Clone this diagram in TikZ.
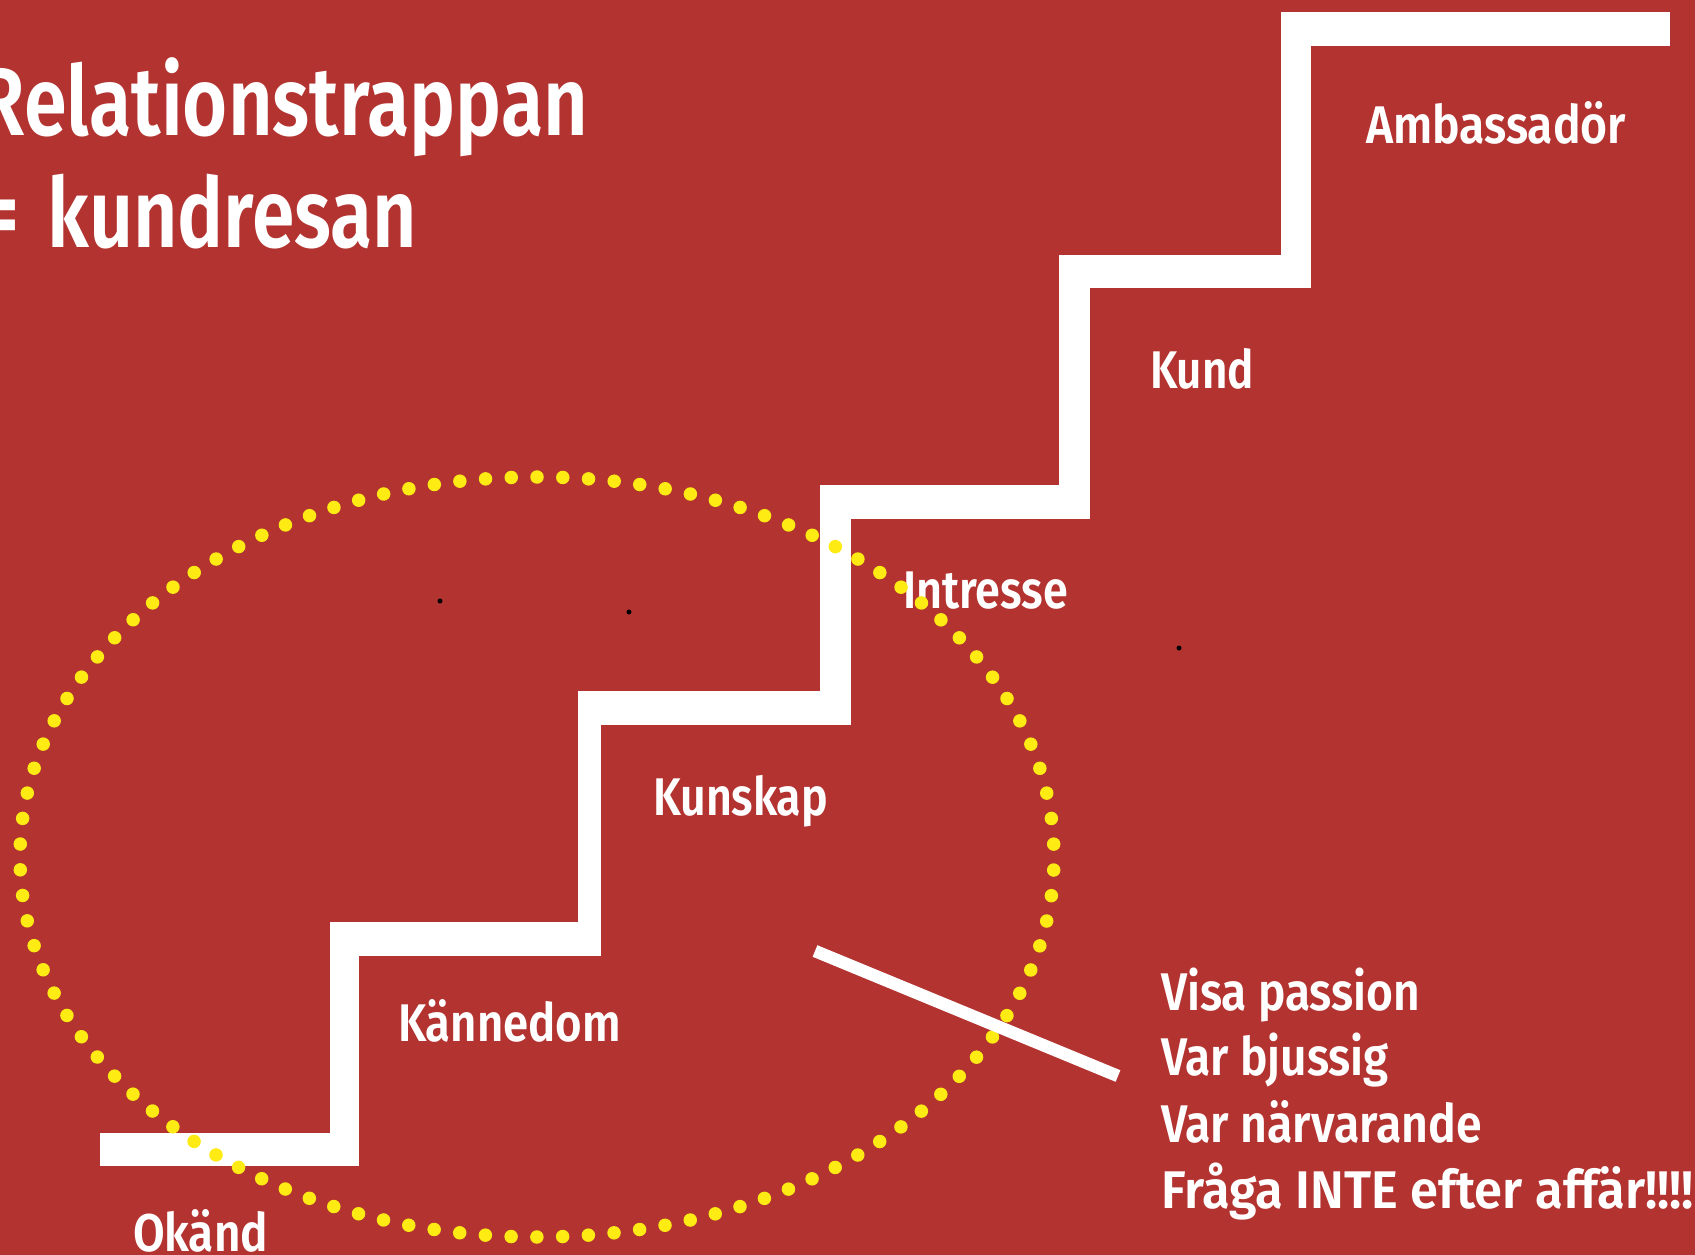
\documentclass[tikz,border=0pt]{standalone}
\usepackage{fontspec}
\usepackage{graphicx}
\newfontfamily\lblfont{Fira Sans SemiBold}
\definecolor{bgred}{RGB}{179,51,48}
\definecolor{dotyellow}{RGB}{255,235,20}
\newcommand\fitw[2]{\resizebox{#1}{\height}{#2}}
\begin{document}
\begin{tikzpicture}[x=1pt,y=-1pt,
  lbl/.style={anchor=base west, inner sep=0pt, outer sep=0pt, text=white, font=\lblfont\fontsize{53}{60}\selectfont},
  ttl/.style={lbl, font=\lblfont\fontsize{97}{110}\selectfont},
  stairfill/.style={fill=white},
  dotring/.style={draw=dotyellow, line width=13.5pt, line cap=round, dash pattern=on 0pt off 25.77pt, dash phase=12.88pt},
  slash/.style={draw=white, line width=12.5pt},
  speck/.style={fill=black}]
\useasboundingbox (0,0) rectangle (1695,1255);
\fill[bgred] (0,0) rectangle (1695,1255);
% stair
\fill[stairfill] (100,1133) rectangle (359,1166);
\fill[stairfill] (330,922) rectangle (359,1166);
\fill[stairfill] (330,922) rectangle (601,956);
\fill[stairfill] (578,691) rectangle (601,956);
\fill[stairfill] (578,691) rectangle (851,725);
\fill[stairfill] (820,485) rectangle (851,725);
\fill[stairfill] (820,485) rectangle (1090,519);
\fill[stairfill] (1059,255) rectangle (1090,519);
\fill[stairfill] (1059,255) rectangle (1311,288);
\fill[stairfill] (1281,12) rectangle (1311,288);
\fill[stairfill] (1281,12) rectangle (1670,46);
% titles
\node[ttl, anchor=base east] (title1) at (588,135) {\fitw{610pt}{Relationstrappan}};
\node[ttl] (title2) at (48,247) {\llap{=\hspace{28pt}}\fitw{369pt}{kundresan}};
% step labels
\node[lbl] (amb) at (1366,143) {\fitw{260pt}{Ambassadör}};
\node[lbl] (kund) at (1150,388) {\fitw{104pt}{Kund}};
\node[lbl] (intr) at (903,608) {\fitw{165pt}{Intresse}};
\node[lbl] (kunsk) at (653,815) {\fitw{175pt}{Kunskap}};
\node[lbl] (kann) at (398,1041) {\fitw{223pt}{Kännedom}};
\node[lbl] (okand) at (133,1251) {\fitw{135pt}{Okänd}};
% advice
\node[lbl] (l1) at (1161,1010) {\fitw{259pt}{Visa passion}};
\node[lbl] (l2) at (1161,1075) {\fitw{228pt}{Var bjussig}};
\node[lbl] (l3) at (1161,1142) {\fitw{321pt}{Var närvarande}};
\node[lbl] (l4) at (1161,1208) {\fitw{533pt}{Fråga INTE efter affär!!!!}};
% dotted ring
\draw[dotring] (537,857) ellipse [x radius=517pt, y radius=380pt];
% specks
\fill[speck] (440,601) circle [radius=2.5pt];
\fill[speck] (629,612) circle [radius=2.5pt];
\fill[speck] (1179,648) circle [radius=2.5pt];
% slash
\coordinate (s1) at (815,951);
\coordinate (s2) at (1118,1076);
\draw[slash] (s1) -- (s2);
\end{tikzpicture}
\end{document}
